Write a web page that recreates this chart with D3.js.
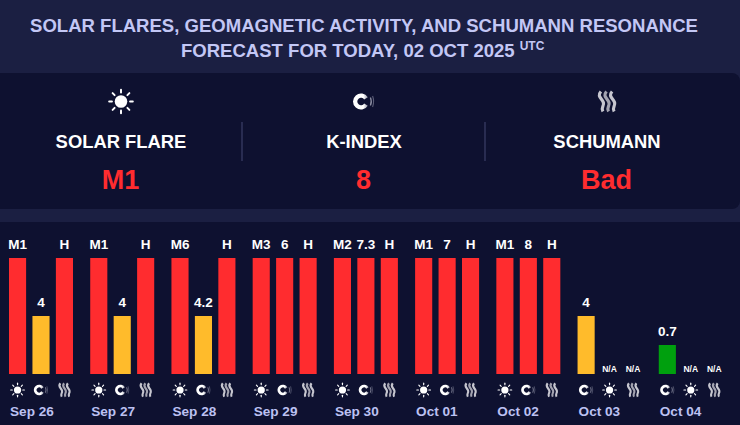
<!DOCTYPE html>
<html>
<head>
<meta charset="utf-8">
<script src="https://cdn.jsdelivr.net/npm/d3@7"></script>
<style>
  html, body { margin: 0; padding: 0; background: #1b1f42; overflow: hidden; }
  text { font-family: "Liberation Sans", Arial, Helvetica, sans-serif; font-weight: 700; }
</style>
</head>
<body>
<div id="chart"></div>
<script>
const WIDTH = 740;
const HEIGHT = 425;

const titleLines = ["SOLAR FLARES, GEOMAGNETIC ACTIVITY, AND SCHUMANN RESONANCE", "FORECAST FOR TODAY, 02 OCT 2025"];
const titleSup = "UTC";

const summaryKinds = ["sun", "magnet", "waves"];
const summaryNames = ["SOLAR FLARE", "K-INDEX", "SCHUMANN"];
const summaryValues = ["M1", "8", "Bad"];

const days = ["Sep 26", "Sep 27", "Sep 28", "Sep 29", "Sep 30", "Oct 01", "Oct 02", "Oct 03", "Oct 04"];

// the three bars of each day, left to right. level is the bar height in quarters, 0 = no bar
const slotKinds = [
  ["sun", "magnet", "waves"], ["sun", "magnet", "waves"], ["sun", "magnet", "waves"],
  ["sun", "magnet", "waves"], ["sun", "magnet", "waves"], ["sun", "magnet", "waves"],
  ["sun", "magnet", "waves"], ["magnet", "sun", "waves"], ["magnet", "sun", "waves"],
];
const slotLabels = [
  ["M1", "4", "H"], ["M1", "4", "H"], ["M6", "4.2", "H"],
  ["M3", "6", "H"], ["M2", "7.3", "H"], ["M1", "7", "H"],
  ["M1", "8", "H"], ["4", "N/A", "N/A"], ["0.7", "N/A", "N/A"],
];
const slotLevels = [
  [4, 2, 4], [4, 2, 4], [4, 2, 4],
  [4, 4, 4], [4, 4, 4], [4, 4, 4],
  [4, 4, 4], [2, 0, 0], [1, 0, 0],
];

const levelColors = { 1: "#00a00e", 2: "#ffbb2b", 4: "#ff2c2f" };

const svg = d3.select("#chart").append("svg")
  .attr("width", WIDTH)
  .attr("height", HEIGHT)
  .style("display", "block");

const defs = svg.append("defs");
const fade = defs.append("linearGradient").attr("id", "magnetFade");
fade.append("stop").attr("offset", "0%").attr("stop-color", "#ffffff");
fade.append("stop").attr("offset", "70%").attr("stop-color", "#ffffff");
fade.append("stop").attr("offset", "100%").attr("stop-color", "#9a9bab");

svg.append("rect").attr("width", WIDTH).attr("height", HEIGHT).attr("fill", "#1b1f42");

// title
const title = svg.append("g").attr("fill", "#c3c7f5").attr("font-size", 18.55);
title.append("text").attr("x", 364).attr("y", 32).attr("text-anchor", "middle").text(titleLines[0]);
const line2 = title.append("text").attr("x", 181).attr("y", 57);
line2.append("tspan").text(titleLines[1]);
line2.append("tspan").attr("dx", 5).attr("dy", -7).attr("font-size", 12).text(titleSup);

// summary card
svg.append("rect").attr("x", -12).attr("y", 73).attr("width", WIDTH + 12).attr("height", 136)
  .attr("rx", 8).attr("fill", "#0e1130");

// chart panel
svg.append("rect").attr("y", 222).attr("width", WIDTH).attr("height", HEIGHT - 222).attr("fill", "#0e1130");

function drawIcon(parent, kind, cx, cy, s) {
  const g = parent.append("g").attr("transform", `translate(${cx},${cy}) scale(${s})`);
  if (kind === "sun") {
    g.append("circle").attr("r", 5.4).attr("fill", "#fff");
    d3.range(8).forEach(i => {
      const a = i * Math.PI / 4;
      g.append("line")
        .attr("x1", 7.8 * Math.cos(a)).attr("y1", 7.8 * Math.sin(a))
        .attr("x2", 10.2 * Math.cos(a)).attr("y2", 10.2 * Math.sin(a))
        .attr("stroke", "#fff").attr("stroke-width", 1.7).attr("stroke-linecap", "round");
    });
  } else if (kind === "magnet") {
    const arc = d3.arc().innerRadius(3.7).outerRadius(8)
      .startAngle(Math.PI / 2 + 0.55).endAngle(Math.PI / 2 + 2 * Math.PI - 0.55);
    g.append("path").attr("d", arc()).attr("fill", "url(#magnetFade)").attr("transform", "translate(-2,0)");
    g.append("path").attr("d", "M7.4 -4 Q9.2 0 7.4 4").attr("fill", "none").attr("stroke", "#8a8ca0").attr("stroke-width", 1.3);
    g.append("path").attr("d", "M9.6 -5.5 Q11.6 0 9.6 5.5").attr("fill", "none").attr("stroke", "#5d5f78").attr("stroke-width", 1.1);
  } else {
    [-5.6, 0, 5.6].forEach(dx => {
      g.append("path")
        .attr("d", `M${dx - 0.5} -10 C${dx - 5} -5 ${dx + 1} -3 ${dx + 2} 1 C${dx + 3} 5 ${dx - 1} 6 ${dx + 1.5} 10`)
        .attr("fill", "none").attr("stroke", dx === 0 ? "#a3a3b0" : "#c6c6cf").attr("stroke-width", 3.2);
    });
  }
}

// summary columns
const summaryX = d3.scalePoint().domain(summaryNames).range([121, 607]);

summaryNames.forEach((name, i) => {
  const x = summaryX(name);
  const kind = summaryKinds[i];
  drawIcon(svg, kind, x + (kind === "magnet" ? -1 : 0), 101.5, kind === "sun" ? 1.16 : 1);
  svg.append("text").attr("x", x).attr("y", 148).attr("text-anchor", "middle")
    .attr("fill", "#fff").attr("font-size", 18.4).text(name);
  svg.append("text").attr("x", x - 0.5).attr("y", 189).attr("text-anchor", "middle")
    .attr("fill", "#ff2c2f").attr("font-size", 27).text(summaryValues[i]);
});

svg.selectAll(".divider")
  .data([242, 485])
  .join("line")
  .attr("class", "divider")
  .attr("x1", d => d).attr("x2", d => d)
  .attr("y1", 122).attr("y2", 161)
  .attr("stroke", "#3c4068").attr("stroke-width", 1.2);

// bars
const xDay = d3.scaleBand().domain(days).range([9, 740]).paddingInner(0).paddingOuter(0).align(0);
const xSlot = d3.scaleBand().domain([0, 1, 2]).range([0, 64]).paddingInner(0.27).paddingOuter(0);
const y = d3.scaleLinear().domain([0, 4]).range([374, 258]);

const dayGroups = svg.selectAll(".day")
  .data(days)
  .join("g")
  .attr("class", "day")
  .attr("transform", d => `translate(${xDay(d)},0)`);

dayGroups.each(function (day, i) {
  const g = d3.select(this);
  [0, 1, 2].forEach(s => {
    const level = slotLevels[i][s];
    const cx = xSlot(s) + xSlot.bandwidth() / 2;
    if (level > 0) {
      g.append("rect")
        .attr("x", xSlot(s)).attr("width", xSlot.bandwidth())
        .attr("y", y(level)).attr("height", y(0) - y(level))
        .attr("fill", levelColors[level]);
    }
    g.append("text")
      .attr("x", cx).attr("y", level > 0 ? y(level) - 9.5 : 372)
      .attr("text-anchor", "middle")
      .attr("fill", "#fff")
      .attr("font-size", level > 0 ? 13.5 : 8.5)
      .text(slotLabels[i][s]);
    drawIcon(g, slotKinds[i][s], cx + (slotKinds[i][s] === "magnet" ? -0.5 : 0), 390, 0.67);
  });
  g.append("text")
    .attr("x", 1).attr("y", 416)
    .attr("fill", "#bcc1f2")
    .attr("font-size", 13.6)
    .text(day);
});
</script>
</body>
</html>
